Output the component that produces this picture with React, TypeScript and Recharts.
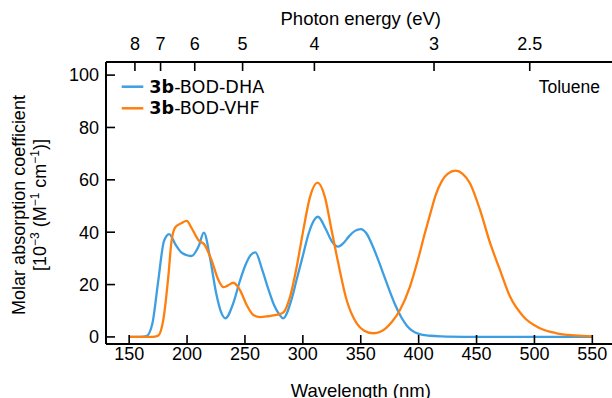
import React from 'react';
import { LineChart, Line, XAxis, YAxis } from 'recharts';

// ---- data ----
const dhaWavelength = [150, 160, 165, 170, 175, 180, 184.5, 190, 195, 200, 204, 210, 214.5, 220, 225, 230, 233, 240, 245, 250, 255, 259, 265, 270, 275, 280, 283, 290, 295, 300, 305, 310, 313, 320, 325, 330.5, 335, 340, 345, 350, 355, 360, 365, 370, 375, 380, 385, 390, 395, 400, 410, 420, 440, 470, 550];
const dhaValue = [0, 0, 0.3, 5, 21, 36.5, 39.3, 35.3, 32.3, 31.2, 30.9, 34.6, 39.8, 29.8, 17, 8.8, 7.1, 13, 20.5, 27, 31.3, 32.3, 25.5, 18.5, 12.3, 8.4, 7.1, 14, 22.5, 31, 39.5, 44.8, 45.9, 41, 36.5, 34.5, 35.8, 38.5, 40.5, 41.2, 39.5, 35, 29.5, 23.5, 17.5, 12, 7.5, 4.2, 2.2, 1.2, 0.45, 0.2, 0.05, 0, 0];

const vhfWavelength = [150, 170, 175, 180, 183.8, 186.7, 190, 195, 199.7, 204, 209.7, 215, 221, 227, 231.5, 235, 240, 245.7, 251.5, 257, 263, 270, 277, 283, 289, 294.7, 300.4, 306.2, 312.7, 319, 324.8, 330.6, 337.8, 346.5, 353, 360.8, 367, 372, 377, 383.9, 392.5, 400, 405, 410, 415, 420, 425, 432, 438, 444.3, 453, 461.6, 470.2, 478.9, 490.4, 504.8, 519.2, 535, 550];
const vhfValue = [0, 0, 0.5, 8, 23, 37, 42, 43.4, 44.3, 41.5, 37, 35.3, 29.5, 21.8, 19, 19.6, 20.7, 17.9, 12.2, 8.5, 7.6, 7.9, 8.4, 9.3, 15.4, 26.8, 40.8, 53.5, 58.9, 53.5, 40.8, 28.1, 14.1, 5.2, 2.4, 1.4, 2, 3.5, 5.8, 10.3, 19.2, 30.5, 39, 47, 54.5, 59.5, 62.3, 63.5, 62.3, 58.7, 48.5, 36, 25.6, 15.4, 7.8, 3.3, 1.4, 0.6, 0.2];

const wavelengthTicks = [150, 200, 250, 300, 350, 400, 450, 500, 550];
const absorptionTicks = [0, 20, 40, 60, 80, 100];
const photonEnergyTicks = [8, 7, 6, 5, 4, 3, 2.5];

const seriesPrefix = ['3b', '3b'];
const seriesNames = ['-BOD-DHA', '-BOD-VHF'];
const seriesColors = ['#3d9fe1', '#ff7f0e'];
const solventLabel = 'Toluene';
const xTitle = 'Wavelength (nm)';
const topTitle = 'Photon energy (eV)';

const HC = 1239.84; // eV·nm

const dhaData = dhaWavelength.map((wl, i) => ({ wl, v: dhaValue[i] }));
const vhfData = vhfWavelength.map((wl, i) => ({ wl, v: vhfValue[i] }));
const topTicks = photonEnergyTicks.map((e) => HC / e);

const FONT = "'Liberation Sans', Arial, Helvetica, sans-serif";
const LEG_FONT = "'DejaVu Sans', sans-serif";
const axisLine = { stroke: '#000', strokeWidth: 2 };
const tickLine = { stroke: '#000', strokeWidth: 1.6 };
const tickStyle = { fill: '#000', fontSize: 18, fontFamily: FONT };

export default function App() {
  return (
    <div style={{ position: 'fixed', left: 0, top: 0, width: 612, height: 398, overflow: 'hidden', background: '#fff' }}>
      <LineChart width={620} height={398} margin={{ top: 61, right: 3.5, bottom: 53, left: 105 }}>
        <XAxis
          xAxisId="bottom"
          type="number"
          dataKey="wl"
          domain={[130, 570]}
          allowDataOverflow
          ticks={wavelengthTicks}
          interval={0}
          orientation="bottom"
          height={1}
          tickSize={-9}
          tickMargin={12}
          axisLine={axisLine}
          tickLine={tickLine}
          tick={tickStyle}
          label={{ value: xTitle, position: 'bottom', offset: 39, fill: '#000', fontSize: 18.5, fontFamily: FONT }}
        />
        <XAxis
          xAxisId="top"
          type="number"
          dataKey="wl"
          domain={[130, 570]}
          allowDataOverflow
          ticks={topTicks}
          interval={0}
          orientation="top"
          height={1}
          tickSize={-9}
          tickMargin={21}
          tickFormatter={(v: number) => String(Math.round((HC / v) * 10) / 10)}
          axisLine={axisLine}
          tickLine={tickLine}
          tick={tickStyle}
          label={{ value: topTitle, position: 'top', offset: 36, fill: '#000', fontSize: 18.5, fontFamily: FONT }}
        />
        <YAxis
          yAxisId="left"
          type="number"
          domain={[-2.7, 105]}
          allowDataOverflow
          ticks={absorptionTicks}
          interval={0}
          width={1}
          tickSize={-9}
          tickMargin={16}
          axisLine={axisLine}
          tickLine={tickLine}
          tick={tickStyle}
        />
        <YAxis
          yAxisId="right"
          orientation="right"
          type="number"
          domain={[-2.7, 105]}
          allowDataOverflow
          ticks={absorptionTicks}
          interval={0}
          width={1}
          tickSize={-9}
          axisLine={axisLine}
          tickLine={tickLine}
          tick={false}
        />
        <Line
          xAxisId="bottom"
          yAxisId="left"
          data={dhaData}
          dataKey="v"
          type="monotone"
          stroke={seriesColors[0]}
          strokeWidth={2.3}
          dot={false}
          isAnimationActive={false}
        />
        <Line
          xAxisId="bottom"
          yAxisId="left"
          data={vhfData}
          dataKey="v"
          type="monotone"
          stroke={seriesColors[1]}
          strokeWidth={2.3}
          dot={false}
          isAnimationActive={false}
        />
      </LineChart>
      <svg width={612} height={398} style={{ position: 'absolute', left: 0, top: 0, pointerEvents: 'none' }}>
        {seriesNames.map((name, i) => (
          <g key={name}>
            <line x1={121.7} x2={143.3} y1={86.7 + i * 21.6} y2={86.7 + i * 21.6} stroke={seriesColors[i]} strokeWidth={2.5} />
            <text x={149.3} y={92.6 + i * 21.6} fontSize={17.6} fontFamily={LEG_FONT} fill="#000">
              <tspan fontWeight="bold">{seriesPrefix[i]}</tspan>
              <tspan>{name}</tspan>
            </text>
          </g>
        ))}
        <text x={600} y={93} textAnchor="end" fontSize={17.5} fontFamily={FONT} fill="#000">
          {solventLabel}
        </text>
        <text transform="translate(25.4,205) rotate(-90)" textAnchor="middle" fontSize={18} fontFamily={FONT} fill="#000">
          Molar absorption coefficient
        </text>
        <text transform="translate(46.2,205) rotate(-90)" textAnchor="middle" fontSize={18} fontFamily={FONT} fill="#000">
          <tspan>[10</tspan>
          <tspan fontSize={12} dy={-7}>−3</tspan>
          <tspan dy={7}> (M</tspan>
          <tspan fontSize={12} dy={-7}>−1</tspan>
          <tspan dy={7}> cm</tspan>
          <tspan fontSize={12} dy={-7}>−1</tspan>
          <tspan dy={7}>)]</tspan>
        </text>
      </svg>
    </div>
  );
}
